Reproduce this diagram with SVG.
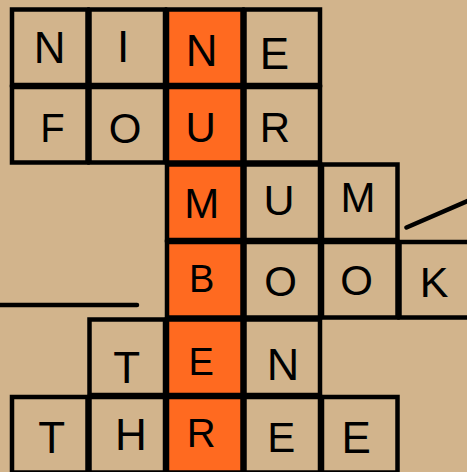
<svg xmlns="http://www.w3.org/2000/svg" width="467" height="472" viewBox="0 0 467 472">
<style>
.c{fill:#D2B48C;stroke:#000;stroke-width:4.5}
.o{fill:#FF6A20;stroke:#000;stroke-width:4.5}
text{font-family:"Liberation Sans",Arial,sans-serif;font-size:43px;fill:#000;text-anchor:middle}
.ln{stroke:#000;stroke-width:4.5;stroke-linecap:round;fill:none}
</style>
<rect width="467" height="472" fill="#D2B48C"/>
<g id="connectors">
<line class="ln" x1="0" y1="305" x2="137" y2="305"/>
<line class="ln" x1="406.5" y1="227.5" x2="470" y2="200"/>
</g>
<g id="r1c1"><rect class="c" x="12" y="9.5" width="75.5" height="75.5"/><text x="49.7" y="63" style="font-size:44px">N</text></g>
<g id="r1c2"><rect class="c" x="89.5" y="9.5" width="75.5" height="75.5"/><text x="123" y="62" style="font-size:44px">I</text></g>
<g id="r1c3"><rect class="o" x="167" y="9.5" width="75.5" height="75.5"/><text x="201.7" y="66" style="font-size:44px">N</text></g>
<g id="r1c4"><rect class="c" x="244.5" y="9.5" width="75.5" height="75.5"/><text x="274.5" y="69" style="font-size:44px">E</text></g>
<g id="r2c1"><rect class="c" x="12" y="87" width="75.5" height="75.5"/><text x="52.4" y="142" style="font-size:40px">F</text></g>
<g id="r2c2"><rect class="c" x="89.5" y="87" width="75.5" height="75.5"/><text x="125" y="142.5" style="font-size:42px">O</text></g>
<g id="r2c3"><rect class="o" x="167" y="87" width="75.5" height="75.5"/><text x="200.7" y="142" style="font-size:42px">U</text></g>
<g id="r2c4"><rect class="c" x="244.5" y="87" width="75.5" height="75.5"/><text x="275" y="142" style="font-size:42px">R</text></g>
<g id="r3c3"><rect class="o" x="167" y="164.5" width="75.5" height="75.5"/><text x="201.7" y="218.3" style="font-size:42px">M</text></g>
<g id="r3c4"><rect class="c" x="244.5" y="164.5" width="75.5" height="75.5"/><text x="279" y="214.5" style="font-size:43px">U</text></g>
<g id="r3c5"><rect class="c" x="322" y="164.5" width="75.5" height="75.5"/><text x="358" y="211.7" style="font-size:42px">M</text></g>
<g id="r4c3"><rect class="o" x="167" y="242" width="75.5" height="75.5"/><text x="201.8" y="291.7" style="font-size:38px">B</text></g>
<g id="r4c4"><rect class="c" x="244.5" y="242" width="75.5" height="75.5"/><text x="280.5" y="296" style="font-size:42px">O</text></g>
<g id="r4c5"><rect class="c" x="322" y="242" width="75.5" height="75.5"/><text x="356.7" y="294.5" style="font-size:42px">O</text></g>
<g id="r4c6"><rect class="c" x="399.5" y="242" width="75.5" height="75.5"/><text x="434" y="296.7" style="font-size:43px">K</text></g>
<g id="r5c2"><rect class="c" x="89.5" y="319.5" width="75.5" height="75.5"/><text x="126.7" y="383.3" style="font-size:44px">T</text></g>
<g id="r5c3"><rect class="o" x="167" y="319.5" width="75.5" height="75.5"/><text x="201.2" y="375" style="font-size:38px">E</text></g>
<g id="r5c4"><rect class="c" x="244.5" y="319.5" width="75.5" height="75.5"/><text x="283" y="380" style="font-size:45px">N</text></g>
<g id="r6c1"><rect class="c" x="12" y="397" width="75.5" height="75.5"/><text x="51.7" y="453.3" style="font-size:44px">T</text></g>
<g id="r6c2"><rect class="c" x="89.5" y="397" width="75.5" height="75.5"/><text x="130.8" y="450" style="font-size:44px">H</text></g>
<g id="r6c3"><rect class="o" x="167" y="397" width="75.5" height="75.5"/><text x="201.2" y="446.7" style="font-size:40px">R</text></g>
<g id="r6c4"><rect class="c" x="244.5" y="397" width="75.5" height="75.5"/><text x="281.2" y="451.7" style="font-size:42px">E</text></g>
<g id="r6c5"><rect class="c" x="322" y="397" width="75.5" height="75.5"/><text x="356.2" y="453.3" style="font-size:44px">E</text></g>
</svg>
